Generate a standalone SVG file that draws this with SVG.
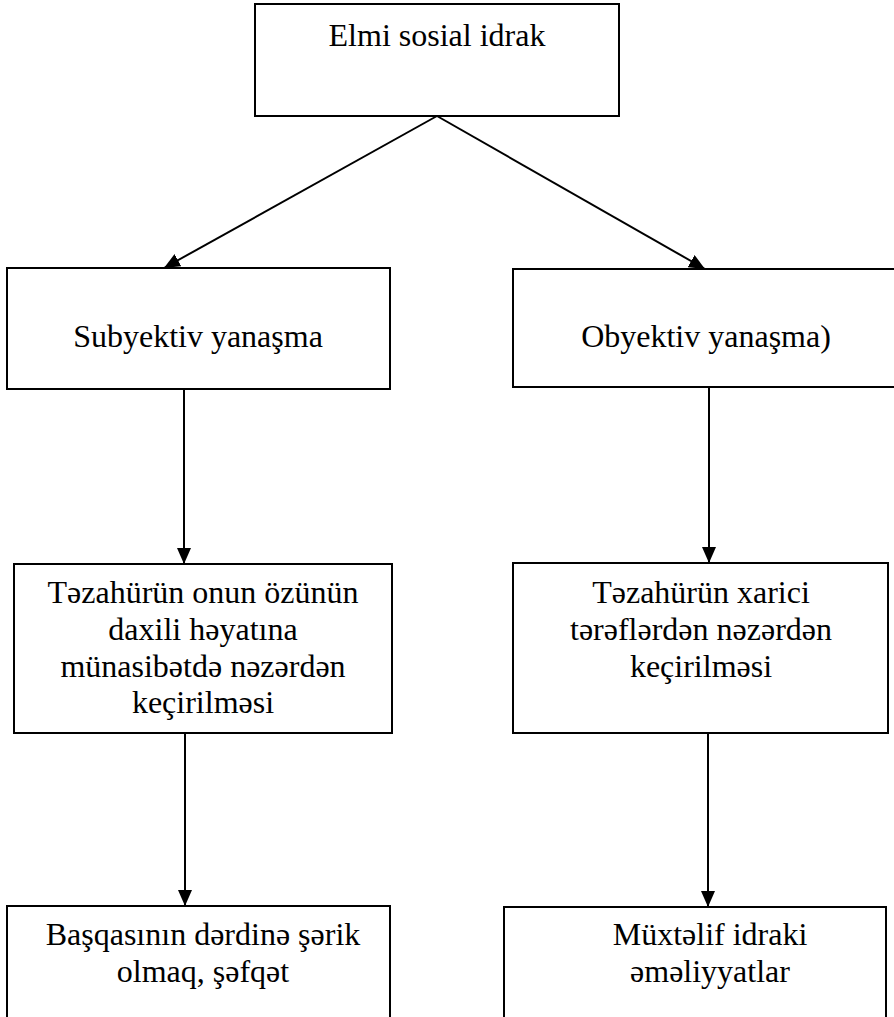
<svg xmlns="http://www.w3.org/2000/svg" width="894" height="1017" viewBox="0 0 894 1017">
<style>
.box{fill:#fff;stroke:#000;stroke-width:2}
.t{font-family:'Liberation Serif','Times New Roman',Tinos,'DejaVu Serif',serif;font-size:32px;fill:#000;text-anchor:middle}
.c{stroke:#000;stroke-width:2;fill:none;marker-end:url(#ah)}
</style>
<defs>
<marker id="ah" markerUnits="userSpaceOnUse" markerWidth="16" markerHeight="14" refX="16" refY="7" orient="auto" viewBox="0 0 16 14">
<path d="M0,0 L16,7 L0,14 z" fill="#000"/>
</marker>
</defs>
<rect width="894" height="1017" fill="#fff"/>
<g id="connectors">
<line class="c" x1="437" y1="116" x2="164" y2="268"/>
<line class="c" x1="437" y1="116" x2="705" y2="269"/>
<line class="c" x1="184" y1="389" x2="184" y2="564"/>
<line class="c" x1="709" y1="388" x2="709" y2="563"/>
<line class="c" x1="185" y1="733" x2="185" y2="906"/>
<line class="c" x1="708" y1="733" x2="708" y2="907"/>
</g>
<g id="n1">
<rect class="box" x="255" y="4" width="364" height="112"/>
<text class="t" font-family="Liberation Serif" x="437" y="46">Elmi sosial idrak</text>
</g>
<g id="n2">
<rect class="box" x="7" y="268" width="383" height="121"/>
<text class="t" font-family="Liberation Serif" x="198" y="347">Subyektiv yanaşma</text>
</g>
<g id="n3">
<rect class="box" x="513" y="269" width="390" height="118"/>
<text class="t" font-family="Liberation Serif" x="706" y="347">Obyektiv yanaşma)</text>
</g>
<g id="n4">
<rect class="box" x="14" y="564" width="378" height="169"/>
<text class="t" font-family="Liberation Serif" x="203" y="603">Təzahürün onun özünün</text>
<text class="t" font-family="Liberation Serif" x="203" y="640">daxili həyatına</text>
<text class="t" font-family="Liberation Serif" x="203" y="677">münasibətdə nəzərdən</text>
<text class="t" font-family="Liberation Serif" x="203" y="713">keçirilməsi</text>
</g>
<g id="n5">
<rect class="box" x="513" y="563" width="375" height="170"/>
<text class="t" font-family="Liberation Serif" x="701" y="603">Təzahürün xarici</text>
<text class="t" font-family="Liberation Serif" x="701" y="640">tərəflərdən nəzərdən</text>
<text class="t" font-family="Liberation Serif" x="701" y="677">keçirilməsi</text>
</g>
<g id="n6">
<rect class="box" x="7" y="906" width="383" height="130"/>
<text class="t" font-family="Liberation Serif" x="203" y="945">Başqasının dərdinə şərik</text>
<text class="t" font-family="Liberation Serif" x="203" y="982">olmaq, şəfqət</text>
</g>
<g id="n7">
<rect class="box" x="504" y="907" width="382" height="130"/>
<text class="t" font-family="Liberation Serif" x="710" y="945">Müxtəlif idraki</text>
<text class="t" font-family="Liberation Serif" x="710" y="982">əməliyyatlar</text>
</g>
</svg>
